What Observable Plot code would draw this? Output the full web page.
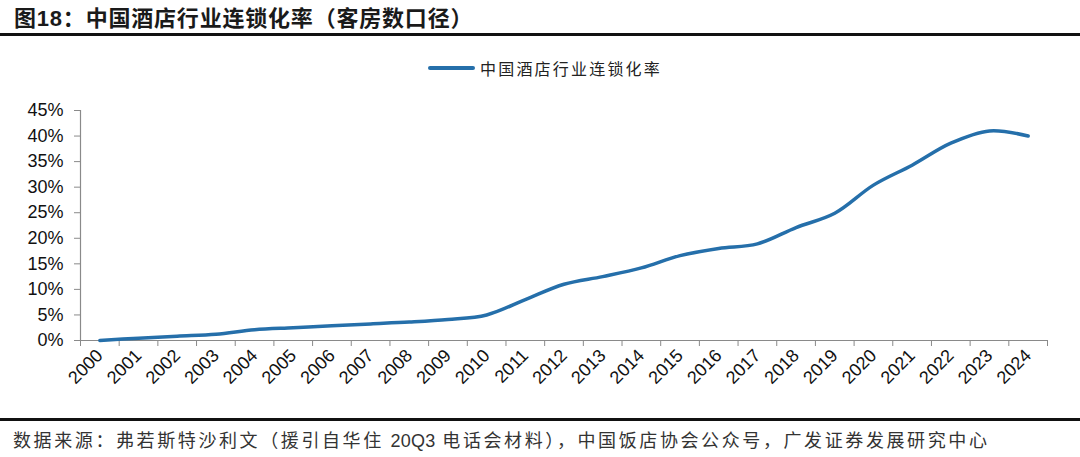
<!DOCTYPE html>
<html>
<head>
<meta charset="utf-8">
<script src="https://cdn.jsdelivr.net/npm/d3@7"></script>
<script src="https://cdn.jsdelivr.net/npm/@observablehq/plot@0.6"></script>
<style>
  html, body { margin: 0; padding: 0; background: #fff; }
  body { width: 1080px; height: 457px; position: relative; overflow: hidden; font-family: "Liberation Sans", "Noto Sans CJK SC", sans-serif; }
  #title { position: absolute; left: 14px; top: 3px; font-family: "Liberation Sans", "Noto Sans CJK SC", sans-serif; font-weight: bold; font-size: 22px; letter-spacing: 0.8px; color: #1a1a1a; white-space: nowrap; line-height: 26px; }
  #title .cn { font-family: "Noto Sans CJK SC", sans-serif; }
  #rule1 { position: absolute; left: 0; top: 33px; width: 1080px; height: 2.5px; background: #111; }
  #legend { position: absolute; left: 428px; top: 56px; height: 24px; display: flex; align-items: center; white-space: nowrap; }
  #legend .sw { width: 47px; height: 3.5px; background: #256faa; border-radius: 2px; margin-right: 5px; }
  #legend .lab { font-family: "Noto Sans CJK SC", sans-serif; font-size: 16px; letter-spacing: 2.2px; color: #222; }
  #chart { position: absolute; left: 0; top: 90px; }
  #rule2 { position: absolute; left: 0; top: 418px; width: 1080px; height: 3px; background: #111; }
  #source { position: absolute; left: 13px; top: 427px; font-family: "Noto Sans CJK SC", sans-serif; font-size: 18px; letter-spacing: 2.6px; color: #333; white-space: nowrap; line-height: 24px; }
  #source .lat { font-family: "Liberation Sans", sans-serif; letter-spacing: 0.3px; }
</style>
</head>
<body>
<div id="title">图18：<span class="cn">中国酒店行业连锁化率（客房数口径）</span></div>
<div id="rule1"></div>
<div id="legend"><div class="sw"></div><div class="lab" id="legendLabel"></div></div>
<div id="chart"></div>
<div id="rule2"></div>
<div id="source">数据来源：弗若斯特沙利文（援引自华住 <span class="lat">20Q3</span> 电话会材料），中国饭店协会公众号，广发证券发展研究中心</div>
<script>
const seriesName = "中国酒店行业连锁化率";
const years = [2000, 2001, 2002, 2003, 2004, 2005, 2006, 2007, 2008, 2009, 2010, 2011, 2012,
               2013, 2014, 2015, 2016, 2017, 2018, 2019, 2020, 2021, 2022, 2023, 2024];
const rates = [0.0, 0.45, 0.85, 1.2, 2.1, 2.5, 2.9, 3.25, 3.6, 4.1, 5.0, 8.0, 11.0,
               12.5, 14.2, 16.6, 18.0, 18.9, 22.1, 24.9, 30.4, 34.3, 38.6, 41.0, 40.0];
const yTicks = [0, 5, 10, 15, 20, 25, 30, 35, 40, 45];

document.getElementById("legendLabel").textContent = seriesName;

const data = years.map((y, i) => ({year: y, rate: rates[i]}));
const boundaries = years.map(y => y - 0.5).concat([years[years.length - 1] + 0.5]);
const axisColor = "#8a8a8a";
const lineColor = "#256faa";

const chart = Plot.plot({
  width: 1080,
  height: 320,
  marginLeft: 80,
  marginRight: 33,
  marginTop: 20,
  marginBottom: 70,
  style: {fontFamily: "Liberation Sans, Arial, sans-serif", fontSize: "18px", color: "#111", background: "#fff"},
  x: {type: "linear", domain: [boundaries[0], boundaries[boundaries.length - 1]]},
  y: {type: "linear", domain: [0, 45]},
  marks: [
    Plot.axisY(yTicks, {tickSize: 6, tickPadding: 11, tickFormat: d => d + "%", stroke: axisColor, fill: "#111", fontSize: 18, label: null}),
    Plot.axisX(boundaries, {tickSize: 6, text: null, stroke: axisColor, label: null}),
    Plot.axisX(years, {tickSize: 0, tickPadding: 12, tickRotate: -45, tickFormat: d => String(d), fill: "#111", fontSize: 18, label: null}),
    Plot.ruleX([boundaries[0]], {stroke: axisColor, strokeWidth: 1.2}),
    Plot.ruleY([0], {stroke: axisColor, strokeWidth: 1.2}),
    Plot.line(data, {x: "year", y: "rate", curve: "catmull-rom", stroke: lineColor, strokeWidth: 3.5, strokeLinecap: "round"})
  ]
});
document.getElementById("chart").appendChild(chart);
</script>
</body>
</html>
